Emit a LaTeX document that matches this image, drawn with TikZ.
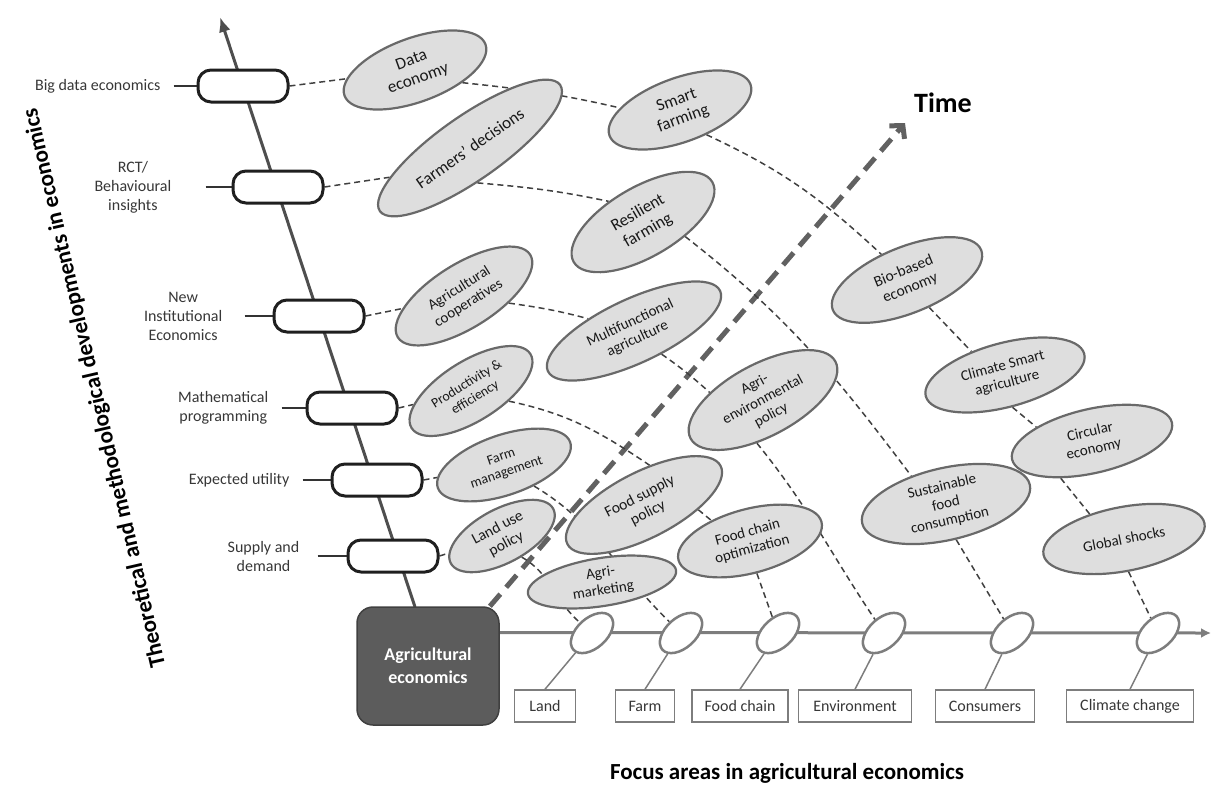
\documentclass[tikz,border=0pt]{standalone}
\usepackage{fontspec}
\setmainfont{Carlito}
\usepackage{tikz}
\usetikzlibrary{arrows.meta}
\usetikzlibrary{backgrounds}
\usetikzlibrary{positioning}
\usetikzlibrary{shapes,shapes.geometric}
\pgfdeclarelayer{edgelayer}
\pgfdeclarelayer{nodelayer}
\pgfsetlayers{background,edgelayer,nodelayer,main}
\definecolor{bubblefill}{RGB}{222,222,222}
\definecolor{bubbleline}{RGB}{105,105,105}
\definecolor{axisgray}{RGB}{78,78,78}
\definecolor{hgray}{RGB}{125,125,125}
\definecolor{hubgray}{RGB}{92,92,92}
\definecolor{labelgray}{RGB}{55,55,55}
\tikzstyle{none}=[inner sep=0mm]
\tikzstyle{pill}=[draw=black!88,line width=3pt,fill=white,rounded corners=13pt,minimum width=90pt,minimum height=32pt,inner sep=0pt]
\tikzstyle{sidelabel}=[align=center,text=labelgray,font=\fontsize{16}{19}\selectfont,inner ysep=0pt,inner xsep=13pt]
\tikzstyle{theme}=[ellipse,draw=bubbleline,line width=2.2pt,fill=bubblefill,inner sep=0pt,align=center,text=black!90,font=\fontsize{15}{17.5}\selectfont]
\tikzstyle{focus}=[ellipse,draw=hgray,line width=2.5pt,fill=white,minimum width=50pt,minimum height=30pt,inner sep=0pt,rotate=42]
\tikzstyle{area}=[draw=hgray,line width=1.5pt,fill=white,minimum height=32pt,inner sep=0pt,text=labelgray,font=\fontsize{16}{19}\selectfont]
\tikzstyle{hub}=[draw=black!75,line width=1.5pt,fill=hubgray,rounded corners=16pt,minimum width=142pt,minimum height=118pt,text=white,align=center,font=\bfseries\fontsize{18}{23}\selectfont]
\tikzstyle{link}=[dash pattern=on 6pt off 4pt,line width=1.5pt,draw=black!75]
\tikzstyle{tick}=[line width=2pt,draw=black!80]
\tikzstyle{stem}=[line width=1.5pt,draw=hgray]
\tikzstyle{vaxis}=[line width=3pt,draw=axisgray,-{Latex[length=15pt,width=12pt]}]
\tikzstyle{haxis}=[line width=3pt,draw=hgray,-{Latex[length=10pt,width=10pt]}]
\tikzstyle{timeline}=[line width=5pt,draw=black!62,dash pattern=on 16pt off 9pt,-{Straight Barb[length=9pt,width=20pt]}]
\tikzstyle{axistitle}=[inner sep=0pt,font=\bfseries\fontsize{23}{27}\selectfont]

\begin{document}
\begin{tikzpicture}[x=1pt,y=1pt]
	\useasboundingbox (0,0) rectangle (1211,-788);
	\begin{pgfonlayer}{nodelayer}
		\coordinate (vbase) at (415,-607);
		\coordinate (vtip) at (220,-17);
		\coordinate (htip) at (1211,-633);
		\coordinate (ttip) at (905,-123);
		\node [style=hub] (agecon) at (428,-666) {Agricultural\\economics};
		\node [style=pill] (p1) at (243,-86) {};
		\node [style=pill] (p2) at (278,-187) {};
		\node [style=pill] (p3) at (319,-316) {};
		\node [style=pill] (p4) at (352,-408) {};
		\node [style=pill] (p5) at (377,-480) {};
		\node [style=pill] (p6) at (393,-556) {};
		\node [style=sidelabel, left=23pt of p1] (l1) {Big data economics};
		\node [style=sidelabel, inner xsep=34pt, left=26pt of p2] (l2) {RCT/\\Behavioural\\insights};
		\node [style=sidelabel, inner xsep=22pt, left=28pt of p3] (l3) {New\\Institutional\\Economics};
		\node [style=sidelabel, left=24pt of p4] (l4) {Mathematical\\programming};
		\node [style=sidelabel, left=28pt of p5] (l5) {Expected utility};
		\node [style=sidelabel, inner xsep=18pt, left=29pt of p6] (l6) {Supply and\\demand};
		\node [style=theme, minimum width=150pt, minimum height=64pt, rotate=20, font=\fontsize{17}{19.5}\selectfont] (data) at (415,-70) {Data\\economy};
		\node [style=theme, minimum width=220pt, minimum height=64pt, rotate=35, font=\fontsize{17}{20}\selectfont] (farmers) at (470,-148) {Farmers' decisions};
		\node [style=theme, minimum width=150pt, minimum height=64pt, rotate=20, font=\fontsize{17}{19.5}\selectfont] (smart) at (680,-110) {Smart\\farming};
		\node [style=theme, minimum width=160pt, minimum height=70pt, rotate=30, font=\fontsize{17}{20}\selectfont] (resil) at (643,-222) {Resilient\\farming};
		\node [style=theme, minimum width=156pt, minimum height=64pt, rotate=32] (coop) at (464,-296) {Agricultural\\cooperatives};
		\node [style=theme, minimum width=190pt, minimum height=64pt, rotate=25] (multi) at (634,-331) {Multifunctional\\agriculture};
		\node [style=theme, minimum width=140pt, minimum height=60pt, rotate=32, font=\fontsize{13.8}{16}\selectfont] (prod) at (471,-391) {Productivity \&\\efficiency};
		\node [style=theme, minimum width=164pt, minimum height=72pt, rotate=28] (agrienv) at (763,-400) {Agri-\\environmental\\policy};
		\node [style=theme, minimum width=160pt, minimum height=66pt, rotate=22, font=\fontsize{15.5}{18}\selectfont] (bio) at (907,-280) {Bio-based\\economy};
		\node [style=theme, minimum width=164pt, minimum height=64pt, rotate=15] (csa) at (1005,-375) {Climate Smart\\agriculture};
		\node [style=theme, minimum width=164pt, minimum height=64pt, rotate=13] (circ) at (1092,-441) {Circular\\economy};
		\node [style=theme, minimum width=164pt, minimum height=64pt, rotate=11] (glob) at (1124,-539) {Global shocks};
		\node [style=theme, minimum width=172pt, minimum height=72pt, rotate=13] (sust) at (946,-504) {Sustainable\\food\\consumption};
		\node [style=theme, minimum width=148pt, minimum height=64pt, rotate=15] (fco) at (750,-541) {Food chain\\optimization};
		\node [style=theme, minimum width=172pt, minimum height=66pt, rotate=27, font=\fontsize{15.5}{18}\selectfont] (fsp) at (644,-505) {Food supply\\policy};
		\node [style=theme, minimum width=140pt, minimum height=60pt, rotate=19, font=\fontsize{14}{16.5}\selectfont] (fm) at (504,-465) {Farm\\management};
		\node [style=theme, minimum width=116pt, minimum height=54pt, rotate=28, font=\fontsize{15.5}{18}\selectfont] (lup) at (502,-536) {Land use\\policy};
		\node [style=theme, minimum width=150pt, minimum height=48pt, rotate=9] (am) at (602,-582) {Agri-\\marketing};
		\node [style=focus] (e1) at (592,-633) {};
		\node [style=focus] (e2) at (681,-633) {};
		\node [style=focus] (e3) at (778,-633) {};
		\node [style=focus] (e4) at (884,-633) {};
		\node [style=focus] (e5) at (1012,-633) {};
		\node [style=focus] (e6) at (1158,-633) {};
		\node [style=area, minimum width=61pt] (land) at (545,-706) {Land};
		\node [style=area, minimum width=59pt] (farm) at (645,-706) {Farm};
		\node [style=area, minimum width=96pt] (foodchain) at (740,-706) {Food chain};
		\node [style=area, minimum width=113pt] (env) at (855,-706) {Environment};
		\node [style=area, minimum width=99pt] (cons) at (985,-706) {Consumers};
		\node [style=area, minimum width=127pt] (clim) at (1130,-706) {Climate change};
		\node [font=\bfseries\fontsize{28}{32}\selectfont, inner sep=0pt] (timelabel) at (943,-103) {Time};
		\node [style=axistitle, rotate=103] (ytitle) at (95,-388) {Theoretical and methodological developments in economics};
		\node [style=axistitle] (xtitle) at (787,-773) {Focus areas in agricultural economics};
	\end{pgfonlayer}
	\begin{pgfonlayer}{edgelayer}
		\draw [style=vaxis] (vbase) to (vtip);
		\draw [style=haxis] (agecon.25) to (htip);
		\draw [style=timeline] (agecon.44) to (ttip);
		\draw [style=tick] (l1) to (p1);
		\draw [style=tick] (l2) to (p2);
		\draw [style=tick] (l3) to (p3);
		\draw [style=tick] (l4) to (p4);
		\draw [style=tick] (l5) to (p5);
		\draw [style=tick] (l6) to (p6);
		\draw [style=link] (p1.east) to (data);
		\draw [style=link, out=-6, in=167] (data.-35) to (smart.158);
		\draw [style=link, out=-25, in=137] (smart.-63) to (bio.113);
		\draw [style=link] (bio.-73) to (csa.130);
		\draw [style=link] (csa.-92) to (circ.153);
		\draw [style=link] (circ.-143) to (glob.133);
		\draw [style=link] (glob.-93) to (e6);
		\draw [style=link] (p2.east) to (farmers.165);
		\draw [style=link, out=-5, in=168] (farmers.-113) to (resil.119);
		\draw [style=link, out=-38, in=127] (resil.-49) to (sust.128);
		\draw [style=link] (sust.-87) to (e5);
		\draw [style=link] (p3.east) to (coop);
		\draw [style=link, out=-8, in=165] (coop.-41) to (multi.140);
		\draw [style=link, out=-35, in=138] (multi.-65) to (agrienv.144);
		\draw [style=link, out=-51, in=117] (agrienv.-126) to (e4);
		\draw [style=link] (p4.east) to (prod);
		\draw [style=link, out=-12, in=146] (prod.-47) to (fsp.55);
		\draw [style=link] (fsp.-32) to (fco.137);
		\draw [style=link] (fco.-93) to (e3);
		\draw [style=link] (p5.east) to (fm);
		\draw [style=link, out=-31, in=128] (fm.-54) to (e2);
		\draw [style=link] (p6.east) to (lup);
		\draw [style=link, out=-30, in=125] (lup.-75) to (e1);
		\draw [style=stem] (e1) to (land.north);
		\draw [style=stem] (e2) to (farm.north);
		\draw [style=stem] (e3) to (foodchain.north);
		\draw [style=stem] (e4) to (env.north);
		\draw [style=stem] (e5) to (cons.north);
		\draw [style=stem] (e6) to (clim.north);
	\end{pgfonlayer}
\end{tikzpicture}
\end{document}
